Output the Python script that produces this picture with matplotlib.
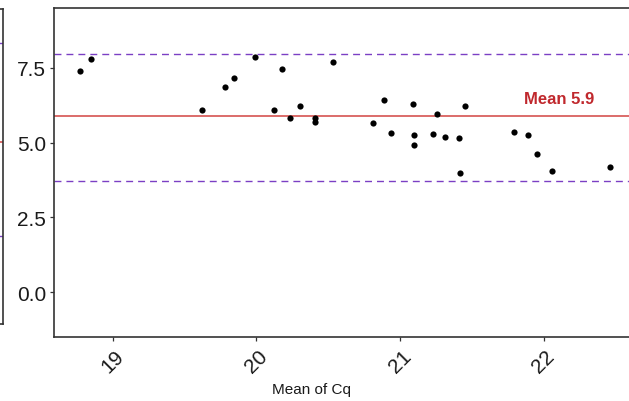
import numpy as np
import matplotlib
matplotlib.use('Agg')
from matplotlib import pyplot as plt

# DATA.
mean_cq = [18.77, 18.85, 19.62, 19.78, 19.84, 19.99, 20.12, 20.18, 20.23, 20.30,
           20.41, 20.41, 20.53, 20.81, 20.89, 20.94, 21.09, 21.10, 21.10, 21.23,
           21.26, 21.31, 21.41, 21.42, 21.45, 21.79, 21.89, 21.95, 22.06, 22.46]
difference = [7.40, 7.78, 6.09, 6.87, 7.17, 7.86, 6.08, 7.45, 5.81, 6.24,
              5.83, 5.69, 7.70, 5.64, 6.43, 5.32, 6.28, 5.26, 4.91, 5.28,
              5.94, 5.18, 5.16, 3.97, 6.22, 5.37, 5.25, 4.62, 4.06, 4.17]
mean_diff = 5.9
upper_loa = 7.97
lower_loa = 3.72
mean_label = 'Mean 5.9'
x_ticks = [19, 20, 21, 22]
y_ticks = [0.0, 2.5, 5.0, 7.5]

# neighbouring panel (only its right edge is visible), as fractions of its height
left_mean = 0.578
left_loa = [0.892, 0.279]

RED = '#d9605e'
PURPLE = '#7b3fc4'
SPINE = '#333333'

plt.rcParams['font.family'] = ['Liberation Sans', 'DejaVu Sans']

W, H = 629, 402
fig = plt.figure(figsize=(W / 100, H / 100), dpi=100)


def px_box(left, top, right, bottom):
    return [left / W, 1 - bottom / H, (right - left) / W, (bottom - top) / H]


# LEFT (CROPPED) PANEL.
left_ax = fig.add_axes(px_box(-300, 10, 3, 325))
left_ax.set_xlim(0, 1)
left_ax.set_ylim(0, 1)
left_ax.axhline(left_mean, color=RED, lw=1.3)
for level in left_loa:
    left_ax.axhline(level, color=PURPLE, lw=1.0, linestyle=(0, (5, 3.6)))
left_ax.set_xticks([])
left_ax.set_yticks([])
for spine in left_ax.spines.values():
    spine.set_color(SPINE)
    spine.set_linewidth(1.2)

# MAIN PANEL.
ax = fig.add_axes(px_box(54, 9, 660, 338))
ax.axhline(mean_diff, color=RED, lw=1.3, zorder=1)
ax.axhline(upper_loa, color=PURPLE, lw=1.0, linestyle=(0, (5, 3.6)), zorder=1)
ax.axhline(lower_loa, color=PURPLE, lw=1.0, linestyle=(0, (5, 3.6)), zorder=1)
ax.scatter(mean_cq, difference, s=20, color='black', zorder=3, linewidths=0)
ax.text(22.106, 6.49, mean_label, color='#c0282d', fontsize=12, fontweight='bold',
        ha='center', va='center')

ax.set_xlim(18.59, 22.81)
ax.set_ylim(-1.5, 9.5)
ax.set_xticks(x_ticks)
ax.set_xticklabels([str(t) for t in x_ticks], rotation=45)
ax.set_yticks(y_ticks)
ax.set_yticklabels(['%.1f' % t for t in y_ticks])
ax.tick_params(axis='both', length=3, width=0.9, color=SPINE, labelsize=15,
               labelcolor='#1a1a1a')
ax.tick_params(axis='y', pad=2.5)
ax.tick_params(axis='x', pad=3.5)
for spine in ax.spines.values():
    spine.set_color(SPINE)
    spine.set_linewidth(1.2)

fig.text(311 / W, 1 - 390 / H, 'Mean of Cq', fontsize=11, color='#1a1a1a',
         ha='center', va='center')

fig.savefig('out.png', dpi=100)
